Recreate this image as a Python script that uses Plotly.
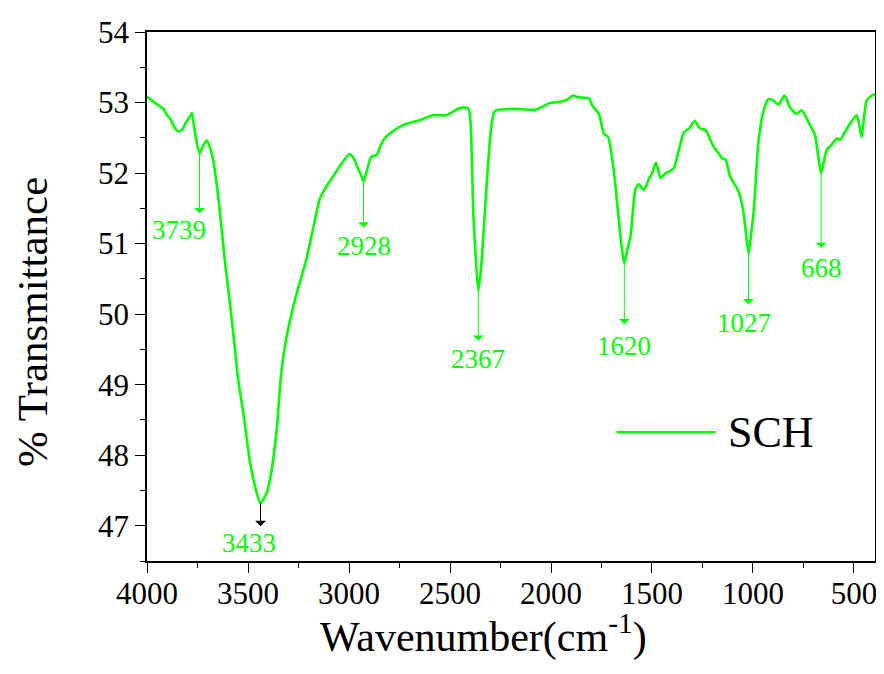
import numpy as np
import plotly.graph_objects as go

# ---------------- data ----------------
wavenumber = [4000, 3958, 3918, 3901, 3885, 3860, 3844, 3825, 3811, 3790, 3778, 3762, 3740, 3720,
              3704, 3690, 3671, 3646, 3614, 3580, 3548, 3523, 3490, 3460, 3438, 3410, 3391, 3358,
              3339, 3317, 3293, 3263, 3210, 3175, 3145, 3110, 3079, 3040, 2997, 2975, 2956, 2940,
              2928, 2910, 2890, 2862, 2845, 2824, 2780, 2733, 2690, 2651, 2585, 2519, 2454, 2410,
              2398, 2384, 2360, 2345, 2318, 2298, 2280, 2250, 2174, 2075, 2009, 1960, 1927, 1890,
              1870, 1845, 1812, 1796, 1763, 1738, 1717, 1688, 1663, 1650, 1637, 1622, 1606, 1582,
              1565, 1541, 1516, 1499, 1480, 1458, 1433, 1410, 1392, 1365, 1342, 1317, 1288, 1270,
              1260, 1235, 1203, 1194, 1170, 1153, 1136, 1113, 1090, 1069, 1047, 1035, 1022, 1010,
              997, 972, 947, 923, 900, 874, 844, 816, 784, 759, 718, 693, 680, 663, 650, 635, 611,
              586, 570, 553, 520, 487, 475, 462, 450, 437, 412, 396]
transmittance = [53.08, 52.99, 52.91, 52.82, 52.77, 52.63, 52.59, 52.62, 52.70, 52.79, 52.85, 52.56,
                 52.28, 52.40, 52.46, 52.38, 52.16, 51.63, 50.74, 49.92, 49.06, 48.60, 47.90, 47.50,
                 47.32, 47.45, 47.66, 48.36, 49.06, 49.55, 49.90, 50.25, 50.79, 51.25, 51.63, 51.82,
                 51.95, 52.12, 52.27, 52.20, 52.07, 51.97, 51.88, 52.05, 52.23, 52.26, 52.38, 52.49,
                 52.60, 52.68, 52.72, 52.75, 52.82, 52.82, 52.92, 52.92, 52.70, 51.40, 50.33, 50.70,
                 51.86, 52.60, 52.87, 52.90, 52.91, 52.90, 52.99, 53.01, 53.03, 53.10, 53.08, 53.07,
                 53.06, 52.96, 52.84, 52.56, 52.51, 52.00, 51.30, 50.95, 50.72, 50.92, 51.11, 51.77,
                 51.84, 51.76, 51.91, 52.00, 52.15, 51.93, 52.00, 52.03, 52.07, 52.35, 52.58, 52.63,
                 52.74, 52.66, 52.63, 52.61, 52.42, 52.37, 52.28, 52.21, 52.19, 51.95, 51.84, 51.72,
                 51.44, 51.15, 50.86, 51.12, 51.44, 52.47, 52.89, 53.05, 53.03, 52.97, 53.10, 52.93,
                 52.84, 52.89, 52.68, 52.54, 52.30, 52.00, 52.15, 52.33, 52.40, 52.49, 52.47, 52.54,
                 52.70, 52.82, 52.70, 52.51, 52.80, 53.03, 53.10, 53.12]

series_name = "SCH"
peak_position = [3740, 3438, 2928, 2360, 1637, 1022, 663]
peak_labels = ["3739", "3433", "2928", "2367", "1620", "1027", "668"]

x_tickvals = [4000, 3500, 3000, 2500, 2000, 1500, 1000, 500]
y_tickvals = [47, 48, 49, 50, 51, 52, 53, 54]
x_title = "Wavenumber(cm<sup>-1</sup>)"
y_title = "% Transmittance"

# ---------------- styles ----------------
GREEN = "#00ff00"
FONT = "Liberation Serif, Times New Roman, serif"
arrow_len = [62, 25, 48, 52, 63, 53, 77]
arrow_col = [GREEN, "black", GREEN, GREEN, GREEN, GREEN, GREEN]
label_dy = [15, 15, 16, 16, 20, 17, 18]
label_dx = [-21, -12, 0, 0, 0, -5, 0]

fig = go.Figure()
fig.add_trace(go.Scatter(
    x=wavenumber, y=transmittance, mode="lines", name=series_name,
    line=dict(color=GREEN, width=2.6, shape="spline", smoothing=0.6),
    showlegend=False, hoverinfo="skip"))

wn_asc = np.array(wavenumber)[::-1]
t_asc = np.array(transmittance)[::-1]
annotations = []
for pos, lab, L, col, dy, dx in zip(peak_position, peak_labels, arrow_len, arrow_col, label_dy, label_dx):
    yv = float(np.interp(pos, wn_asc, t_asc))
    annotations.append(dict(
        x=pos, y=yv, xref="x", yref="y", text=" ", showarrow=True,
        ax=0, ay=L, arrowside="start", startarrowhead=1, startarrowsize=1.8,
        arrowwidth=1, arrowcolor=col, standoff=0, startstandoff=0,
        font=dict(size=1)))
    annotations.append(dict(
        x=pos, y=yv, xref="x", yref="y", text=lab, showarrow=False,
        yshift=-(L + dy), xshift=dx, xanchor="center", yanchor="middle",
        font=dict(family=FONT, size=27, color=GREEN)))

# manual legend text
annotations.append(dict(
    x=0.796, y=0.2434, xref="paper", yref="paper", text=series_name, showarrow=False,
    xanchor="left", yanchor="middle", font=dict(family=FONT, size=44, color="black")))
# axis titles
annotations.append(dict(
    x=0.4628, y=-0.192, xref="paper", yref="paper", text=x_title, showarrow=False,
    xanchor="center", yanchor="bottom", font=dict(family=FONT, size=42, color="black")))
annotations.append(dict(
    x=-0.157, y=0.4513, xref="paper", yref="paper", text=y_title, showarrow=False,
    textangle=-90, xanchor="center", yanchor="middle",
    font=dict(family=FONT, size=43, color="black")))

# the page body adds an 8px offset, so the figure is 8px smaller and margins shifted
fig.update_layout(
    width=876, height=666,
    margin=dict(l=139, r=7, t=19, b=113),
    paper_bgcolor="white", plot_bgcolor="white",
    annotations=annotations,
    shapes=[dict(type="line", xref="paper", yref="paper", x0=0.645, x1=0.781,
                 y0=0.2434, y1=0.2434, line=dict(color=GREEN, width=2.6))],
    font=dict(family=FONT, color="black"),
)
fig.update_xaxes(
    range=[4000, 396], tickvals=x_tickvals, showgrid=False, zeroline=False,
    showline=True, linecolor="black", linewidth=1.6, mirror=True,
    ticks="outside", ticklen=10, tickwidth=1.4, tickcolor="black",
    tickfont=dict(family=FONT, size=31, color="black"), ticklabelstandoff=-6,
    minor=dict(dtick=250, tick0=0, ticks="outside", ticklen=5, tickwidth=1.4, tickcolor="black", showgrid=False),
)
fig.update_yaxes(
    range=[46.5, 54], tickvals=y_tickvals, showgrid=False, zeroline=False,
    showline=True, linecolor="black", linewidth=1.6, mirror=True,
    ticks="outside", ticklen=10, tickwidth=1.4, tickcolor="black",
    tickfont=dict(family=FONT, size=31, color="black"),
    minor=dict(dtick=0.5, tick0=0, ticks="outside", ticklen=5, tickwidth=1.4, tickcolor="black", showgrid=False),
)

fig.write_html("out.html")
